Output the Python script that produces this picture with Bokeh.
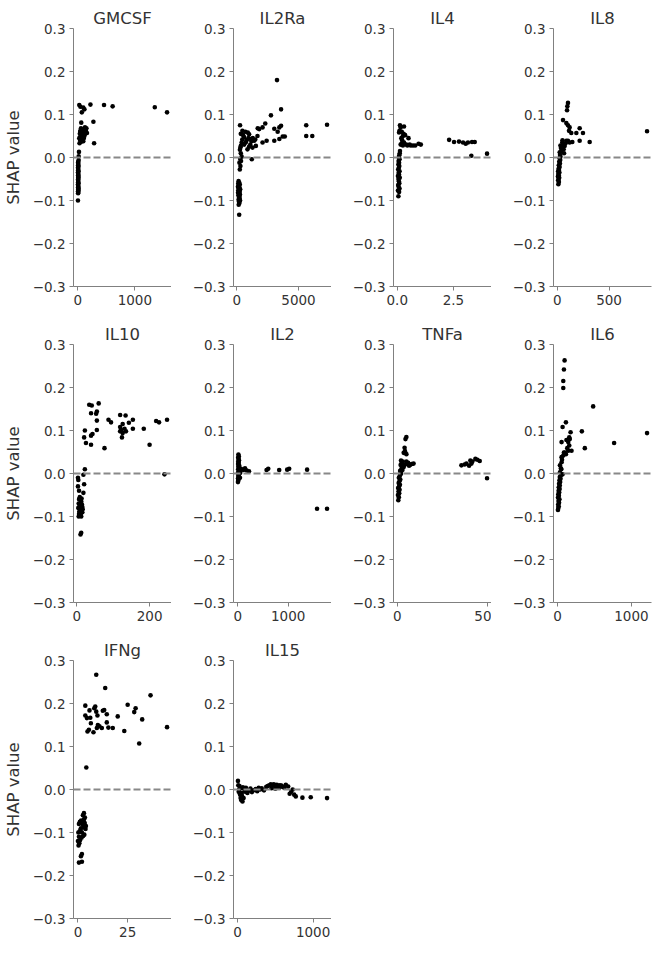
from bokeh.plotting import figure
from bokeh.layouts import gridplot
from bokeh.models import Range1d, FixedTicker, Span, CustomJSTickFormatter
from bokeh.embed import file_html
from bokeh.resources import INLINE

# ---------------- data (feature value, SHAP value) ----------------
GMCSF = [(2,-0.100),(5,-0.083),(8,-0.081),(3,-0.079),(10,-0.077),(6,-0.075),(12,-0.072),(4,-0.070),
         (9,-0.068),(7,-0.065),(2,-0.063),(11,-0.060),(5,-0.058),(8,-0.055),(3,-0.052),(10,-0.050),
         (6,-0.047),(12,-0.045),(4,-0.042),(9,-0.040),(7,-0.037),(2,-0.035),(11,-0.032),(5,-0.030),
         (8,-0.027),(3,-0.024),(10,-0.021),(6,-0.018),(9,-0.015),(4,-0.012),(7,-0.010),(14,-0.006),
         (15,0.003),(20,0.013),
         (30,0.033),(40,0.040),(25,0.045),(50,0.050),(35,0.055),(60,0.058),(45,0.062),(70,0.048),
         (80,0.052),(90,0.058),(100,0.063),(110,0.066),(120,0.060),(130,0.055),(75,0.065),(85,0.042),
         (95,0.038),(105,0.045),(140,0.062),(150,0.068),(55,0.068),(65,0.037),(115,0.050),(125,0.070),
         (160,0.057),(42,0.060),
         (25,0.122),(45,0.118),(60,0.081),(70,0.105),(95,0.116),(115,0.112),(221,0.123),(459,0.122),
         (610,0.119),(273,0.083),(285,0.033),(1349,0.117),(1564,0.105)]

IL2Ra = [(150,-0.055),(200,-0.058),(120,-0.061),(250,-0.063),(180,-0.066),(100,-0.068),(220,-0.070),
         (160,-0.072),(280,-0.074),(130,-0.076),(200,-0.078),(240,-0.080),(110,-0.082),(170,-0.084),
         (260,-0.086),(140,-0.088),(210,-0.090),(190,-0.093),(230,-0.095),(150,-0.098),(270,-0.100),
         (180,-0.103),(220,-0.106),(160,-0.110),(200,-0.133),
         (250,-0.028),(300,-0.020),(220,-0.012),(350,-0.008),(280,-0.003),(400,0.002),(330,0.010),
         (260,0.018),(300,0.023),
         (270,0.075),(460,0.062),(330,0.055),(520,0.052),(400,0.035),(330,0.027),(600,0.047),(730,0.035),
         (870,0.019),(1000,0.054),(1140,0.043),(1220,-0.004),(1280,0.023),(1410,0.039),(1550,0.027),
         (1680,0.050),(1820,0.066),(2090,0.070),(2090,0.035),(2310,0.079),(2420,0.039),(2770,0.098),
         (3040,0.067),(3040,0.039),(3260,0.180),(3315,0.060),(3450,0.070),(3450,0.043),(3590,0.074),
         (3590,0.112),(3720,0.049),(3890,0.049),(5625,0.075),(5625,0.050),(6115,0.050),(7310,0.076),
         (700,0.060),(900,0.058),(1100,0.030),(1300,0.045),(800,0.040),(1000,0.025),(1200,0.038),
         (1500,0.042),(1700,0.068),(600,0.030),(450,0.042),(950,0.045)]

IL4 = [(0.05,-0.090),(0.08,-0.080),(0.03,-0.077),(0.10,-0.072),(0.06,-0.068),(0.04,-0.064),(0.09,-0.060),
       (0.07,-0.055),(0.05,-0.050),(0.11,-0.047),(0.03,-0.043),(0.08,-0.040),(0.06,-0.036),(0.10,-0.032),
       (0.04,-0.028),(0.07,-0.024),(0.09,-0.020),(0.05,-0.016),(0.08,-0.012),(0.06,-0.008),(0.10,-0.004),
       (0.07,0.000),(0.09,0.005),(0.11,0.010),(0.12,0.015),
       (0.08,0.058),(0.12,0.075),(0.15,0.070),(0.30,0.072),(0.20,0.060),(0.25,0.050),(0.35,0.052),
       (0.50,0.045),(0.15,0.030),(0.20,0.033),(0.25,0.028),(0.30,0.035),(0.40,0.030),(0.45,0.028),
       (0.55,0.030),(0.60,0.028),(0.70,0.028),(0.80,0.028),(0.95,0.032),(1.05,0.030),(0.18,0.045),
       (0.22,0.040),(0.28,0.055),(0.10,0.062),
       (2.31,0.041),(2.53,0.036),(2.75,0.037),(2.93,0.035),(3.05,0.032),(3.15,0.035),(3.33,0.036),
       (3.45,0.036),(3.30,0.004),(4.00,0.009)]

IL8 = [(10,-0.062),(15,-0.057),(8,-0.053),(12,-0.050),(18,-0.047),(6,-0.044),(14,-0.041),(10,-0.038),
       (20,-0.035),(8,-0.032),(16,-0.029),(12,-0.026),(22,-0.022),(14,-0.018),(25,-0.014),(18,-0.010),
       (28,-0.006),(22,-0.002),(30,0.002),(26,0.006),
       (23,0.012),(39,0.015),(61,0.019),(71,0.027),(48,0.035),(87,0.039),(103,0.039),(119,0.035),
       (145,0.036),(35,0.022),(55,0.030),(65,0.010),(45,0.025),(80,0.033),(30,0.028),(50,0.040),
       (103,0.127),(97,0.119),(94,0.110),(55,0.087),(87,0.080),(103,0.075),(119,0.070),(113,0.062),
       (135,0.057),(184,0.057),(216,0.068),(248,0.057),(216,0.039),(313,0.036),(868,0.061)]

IL10 = [(3,-0.010),(4,-0.015),(3,-0.030),(6,-0.040),(8,-0.055),(10,-0.060),(12,-0.065),(5,-0.070),
        (8,-0.075),(10,-0.080),(12,-0.085),(15,-0.090),(10,-0.095),(5,-0.100),(8,-0.097),(12,-0.100),
        (15,-0.078),(18,-0.045),(20,-0.025),(18,-0.003),(22,0.010),(12,-0.138),(10,-0.142),(6,-0.060),
        (7,-0.088),(9,-0.070),(11,-0.092),(14,-0.072),(4,-0.080),(13,-0.058),(6,-0.094),(16,-0.083),
        (20,0.084),(22,0.100),(25,0.071),(34,0.160),(41,0.158),(39,0.140),(39,0.067),(39,0.088),
        (43,0.092),(53,0.139),(55,0.144),(55,0.123),(55,0.101),(60,0.163),(76,0.059),(87,0.125),
        (94,0.119),(119,0.136),(119,0.108),(122,0.101),(119,0.098),(126,0.115),(124,0.084),(131,0.104),
        (134,0.135),(135,0.098),(143,0.118),(154,0.125),(154,0.104),(184,0.104),(200,0.067),(218,0.122),
        (226,0.119),(248,0.125),(241,-0.002),(126,0.094)]

IL2 = [(5,-0.020),(10,-0.017),(15,-0.014),(8,-0.011),(20,-0.008),(12,-0.005),(25,-0.002),(6,0.001),
       (18,0.004),(30,0.007),(10,0.010),(22,0.013),(14,0.016),(28,0.019),(8,0.022),(20,0.025),
       (12,0.028),(25,0.031),(16,0.034),(10,0.037),(22,0.040),(14,0.044),(35,0.005),(40,0.012),
       (45,-0.010),(50,0.002),
       (66,0.011),(112,0.008),(145,0.012),(178,0.007),(224,0.005),(572,0.008),(605,0.011),(822,0.008),
       (980,0.009),(1020,0.011),(1375,0.009),(1572,-0.082),(1770,-0.082)]

TNFa = [(0.5,-0.062),(0.8,-0.055),(0.3,-0.050),(1.0,-0.046),(0.6,-0.042),(1.2,-0.038),(0.4,-0.034),
        (0.9,-0.030),(1.4,-0.026),(0.7,-0.022),(1.1,-0.018),(1.6,-0.014),(0.8,-0.010),(1.3,-0.006),
        (1.8,-0.002),(2.0,0.002),(1.5,0.006),(2.2,0.010),(2.6,0.014),(3.0,0.018),
        (5.0,0.085),(4.5,0.080),(4.0,0.060),(3.5,0.048),(4.2,0.052),(5.0,0.045),(2.0,0.030),(3.0,0.028),
        (5.0,0.028),(6.0,0.025),(7.0,0.020),(8.0,0.022),(9.0,0.023),(4.0,0.020),(3.5,0.015),(2.5,0.025),
        (1.8,0.020),(2.8,0.008),(6.5,0.018),(5.5,0.022),
        (35.7,0.019),(37.5,0.021),(38.5,0.023),(40.0,0.018),(40.7,0.030),(41.3,0.023),(41.8,0.028),
        (43.5,0.034),(44.6,0.032),(45.9,0.029),(50.0,-0.011)]

IL6 = [(5,-0.085),(10,-0.080),(15,-0.076),(8,-0.072),(20,-0.068),(12,-0.064),(25,-0.060),(6,-0.056),
       (18,-0.052),(10,-0.048),(22,-0.044),(14,-0.040),(28,-0.036),(16,-0.032),(30,-0.028),(20,-0.024),
       (35,-0.020),(25,-0.016),(40,-0.012),(30,-0.008),(45,-0.004),(32,0.003),(68,-0.002),(50,0.010),
       (95,0.263),(86,0.242),(77,0.215),(77,0.199),(113,0.119),(68,0.108),(54,0.073),(482,0.156),
       (329,0.098),(369,0.059),(766,0.071),(1212,0.094),(176,0.096),(158,0.084),(144,0.073),(158,0.065),
       (189,0.053),(131,0.059),(99,0.049),(77,0.042),(54,0.038),(54,0.026),(32,0.019),(86,0.049),
       (113,0.045),(144,0.053),(120,0.078),(165,0.080),(60,0.032),(45,0.012)]

IFNg = [(3.0,-0.055),(2.5,-0.060),(3.5,-0.065),(4.0,-0.085),(1.0,-0.075),(0.5,-0.080),(1.5,-0.090),
        (2.0,-0.100),(0.5,-0.110),(0.0,-0.120),(0.3,-0.130),(2.0,-0.150),(1.5,-0.155),(0.5,-0.170),
        (2.0,-0.168),(3.0,-0.070),(2.2,-0.078),(1.2,-0.095),(2.8,-0.088),(3.2,-0.105),(1.8,-0.112),
        (0.8,-0.098),(2.5,-0.082),(3.8,-0.092),(1.0,-0.118),(2.6,-0.108),(0.2,-0.100),(1.6,-0.072),
        (3.4,-0.078),(0.7,-0.125),
        (3.7,0.195),(3.7,0.172),(4.5,0.166),(5.8,0.184),(6.2,0.167),(4.8,0.135),(5.5,0.139),(6.5,0.154),
        (7.8,0.133),(8.2,0.189),(8.7,0.193),(9.2,0.267),(9.2,0.181),(9.5,0.143),(9.8,0.172),(10.0,0.150),
        (10.8,0.147),(12.0,0.143),(12.5,0.183),(13.2,0.185),(13.7,0.236),(14.5,0.175),(14.5,0.156),
        (15.3,0.144),(17.5,0.143),(20.0,0.170),(4.2,0.051),(23.3,0.136),(25.0,0.197),(28.3,0.180),
        (29.0,0.189),(30.8,0.107),(32.3,0.163),(36.5,0.219),(44.8,0.145)]

IL15 = [(5,0.020),(10,0.010),(20,0.000),(30,-0.010),(40,-0.020),(50,-0.025),(60,-0.015),(70,0.005),
        (80,-0.020),(15,-0.005),(25,0.008),(35,-0.012),(45,0.003),(55,-0.008),(65,-0.028),(90,0.000),
        (100,-0.005),(110,0.004),(130,-0.008),(150,-0.003),(170,0.002),(190,-0.006),(210,-0.002),
        (240,0.001),(260,-0.004),(280,0.004),(300,0.000),(320,0.003),(350,-0.002),(380,0.006),
        (400,0.008),(420,0.010),(440,0.012),(460,0.009),(480,0.012),(500,0.008),(520,0.011),(540,0.007),
        (560,0.010),(581,0.009),(600,0.006),(620,0.004),(639,0.011),(670,0.007),(690,-0.010),
        (710,-0.005),(730,0.000),(750,-0.012),(771,-0.016),(859,-0.019),(969,-0.018),(1185,-0.020),
        (450,0.003),(500,0.002),(550,0.004)]

features = ["GMCSF", "IL2Ra", "IL4", "IL8", "IL10", "IL2", "TNFa", "IL6", "IFNg", "IL15"]
series = [GMCSF, IL2Ra, IL4, IL8, IL10, IL2, TNFa, IL6, IFNg, IL15]
x_ticks = [[0, 1000], [0, 5000], [0.0, 2.5], [0, 500], [0, 200],
           [0, 1000], [0, 50], [0, 1000], [0, 25], [0, 1000]]
x_tick_labels = [["0", "1000"], ["0", "5000"], ["0.0", "2.5"], ["0", "500"], ["0", "200"],
                 ["0", "1000"], ["0", "50"], ["0", "1000"], ["0", "25"], ["0", "1000"]]
y_ticks = [-0.3, -0.2, -0.1, 0.0, 0.1, 0.2, 0.3]
y_tick_labels = ["\u22120.3", "\u22120.2", "\u22120.1", "0.0", "0.1", "0.2", "0.3"]
y_label = "SHAP value"
zero_line = 0.0

FONT = "DejaVu Sans"
SPINE = "#808080"
TEXT = "#333333"

label_code = "const k = tvals.indexOf(tick); return k >= 0 ? tlabs[k] : String(tick);"


def make_panel(i):
    row, col = divmod(i, 4)
    pts = series[i]
    xs = [p[0] for p in pts]
    ys = [p[1] for p in pts]
    lo, hi = min(xs), max(xs)
    pad = 0.05 * (hi - lo)
    p = figure(
        frame_width=98, frame_height=258,
        min_border_left=73 if col == 0 else 62,
        min_border_right=2 if col == 3 else 0,
        min_border_top=28,
        min_border_bottom=25 if row == 2 else 30,
        x_range=Range1d(lo - pad, hi + pad),
        y_range=Range1d(y_ticks[0], y_ticks[-1]),
        output_backend="svg", toolbar_location=None, title=features[i],
    )
    p.title.text_font = FONT
    p.title.text_font_size = "16.5px"
    p.title.text_font_style = "normal"
    p.title.text_color = TEXT
    p.title.align = "center"
    p.title.standoff = 2
    p.outline_line_color = None
    p.xgrid.visible = False
    p.ygrid.visible = False

    p.xaxis.ticker = FixedTicker(ticks=x_ticks[i])
    p.xaxis.formatter = CustomJSTickFormatter(
        args=dict(tvals=x_ticks[i], tlabs=x_tick_labels[i]), code=label_code)
    p.yaxis.ticker = FixedTicker(ticks=y_ticks)
    p.yaxis.formatter = CustomJSTickFormatter(
        args=dict(tvals=y_ticks, tlabs=y_tick_labels), code=label_code)

    for ax in (p.xaxis, p.yaxis):
        ax.axis_line_color = SPINE
        ax.axis_line_width = 1
        ax.major_tick_line_color = SPINE
        ax.major_tick_out = 4
        ax.major_tick_in = 0
        ax.minor_tick_line_color = None
        ax.major_label_text_font = FONT
        ax.major_label_text_font_size = "13.5px"
        ax.major_label_text_color = TEXT
        ax.major_label_standoff = 4

    if col == 0:
        p.yaxis.axis_label = y_label
        p.yaxis.axis_label_text_font = FONT
        p.yaxis.axis_label_text_font_size = "16.5px"
        p.yaxis.axis_label_text_font_style = "normal"
        p.yaxis.axis_label_text_color = TEXT
        p.yaxis.axis_label_standoff = 7

    p.add_layout(Span(location=zero_line, dimension="width", line_color="#888888",
                      line_dash="7 3", line_width=1.8))
    p.scatter(x=xs, y=ys, size=4.6, fill_color="black", line_color=None)
    return p


panels = [make_panel(i) for i in range(len(features))]
grid = gridplot([panels[0:4], panels[4:8], [panels[8], panels[9], None, None]],
                toolbar_location=None)

open("out.html", "w").write(file_html(grid, INLINE))
